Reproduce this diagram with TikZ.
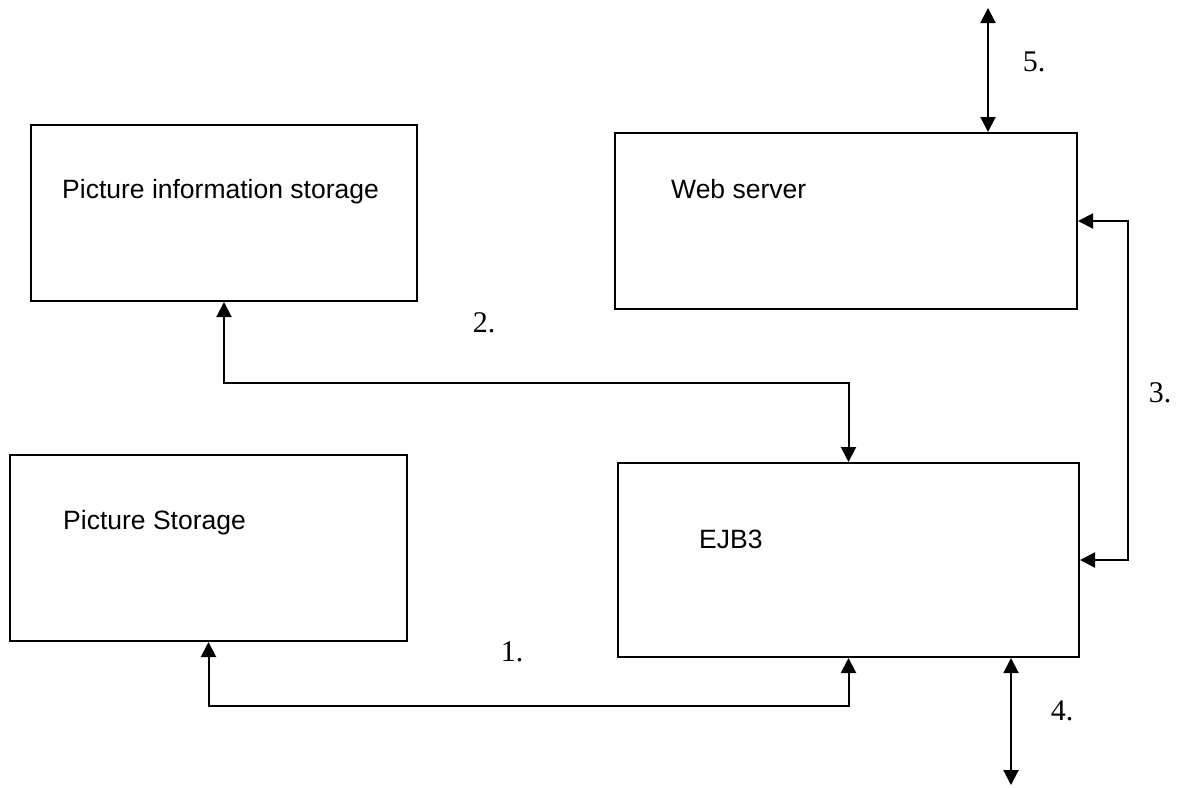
\documentclass[tikz,border=0pt]{standalone}
\usepackage{fontspec}
\setmainfont{Liberation Serif}
\newfontfamily\boxfont{Liberation Sans}
\usetikzlibrary{arrows.meta}

\begin{document}
\begin{tikzpicture}[x=1pt,y=-1pt,
    block/.style={draw, line width=2pt, rectangle, inner sep=0pt},
    blocktext/.style={anchor=base west, inner sep=0pt, font=\boxfont\fontsize{26.5}{30}\selectfont},
    steplabel/.style={inner sep=0pt, font=\fontsize{30}{34}\selectfont},
    link/.style={line width=2pt, {Triangle[length=15pt,width=15pt]}-{Triangle[length=15pt,width=15pt]}}]
  \useasboundingbox (0,0) rectangle (1190,787);

  % component boxes
  \node[block, minimum width=386pt, minimum height=176pt] (info) at (224,213) {};
  \node[block, minimum width=462pt, minimum height=176pt] (web)  at (846,221) {};
  \node[block, minimum width=397pt, minimum height=186pt] (pics) at (208.5,548) {};
  \node[block, minimum width=461pt, minimum height=194pt] (ejb)  at (848.5,560) {};

  % box captions
  \node[blocktext] (infoT) at (62,198)  {Picture information storage};
  \node[blocktext] (webT)  at (671,198) {Web server};
  \node[blocktext] (picsT) at (63,529)  {Picture Storage};
  \node[blocktext] (ejbT)  at (699,548) {EJB3};

  % external ends
  \coordinate (ext5) at (988,8);
  \coordinate (ext4) at (1011,785);

  % connections
  \draw[link] (pics.south) -- ++(0,64) -| (ejb.south);
  \draw[link] (info.south) -- ++(0,81) -| (ejb.north);
  \draw[link] (web.east) -- ++(50,0) |- (ejb.east);
  \draw[link] (ejb.south -| ext4) -- (ext4);
  \draw[link] (ext5) -- (ext5 |- web.north);

  % step numbers
  \node[steplabel] (n1) at (512,652)  {1.};
  \node[steplabel] (n2) at (484,323)  {2.};
  \node[steplabel] (n3) at (1160,393) {3.};
  \node[steplabel] (n4) at (1062,711) {4.};
  \node[steplabel] (n5) at (1034,62)  {5.};
\end{tikzpicture}
\end{document}
